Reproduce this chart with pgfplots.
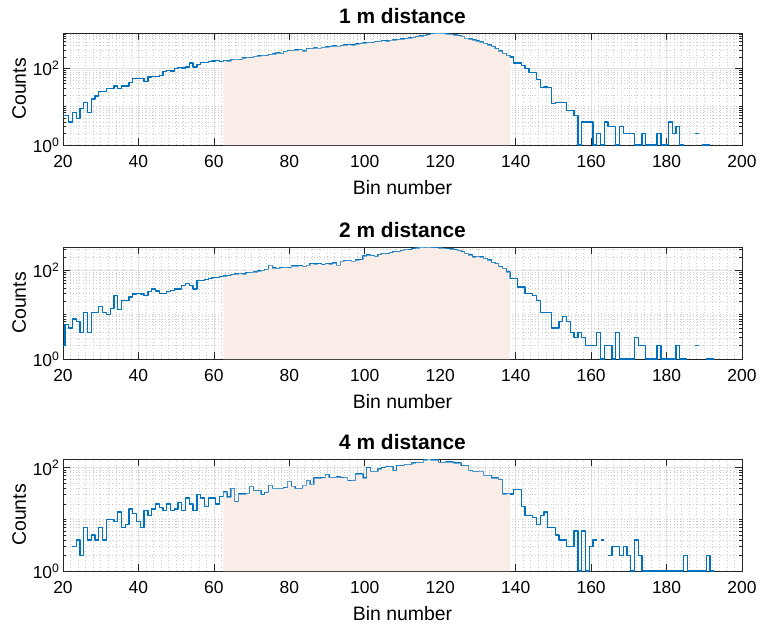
\documentclass[border=0pt]{standalone}
\usepackage{fontspec}
\setmainfont{Liberation Sans}
\usepackage{pgfplots}
\usepackage{pgfplotstable}
\pgfplotsset{compat=1.18}

\definecolor{mblue}{RGB}{0,114,189}
\definecolor{shade}{RGB}{250,236,231}
\definecolor{gridc}{RGB}{225,225,225}

% bin left edge, counts
\pgfplotstableread[row sep=\\]{
x y\\
19.5 6\\20.5 6\\21.5 4\\22.5 7\\23.5 5\\24.5 9\\25.5 13\\26.5 7\\27.5 16\\28.5 19\\29.5 25\\30.5 25\\
31.5 30\\32.5 30\\33.5 35\\34.5 30\\35.5 35\\36.5 35\\37.5 43\\38.5 55\\39.5 55\\40.5 56\\41.5 46\\
42.5 60\\43.5 63\\44.5 62\\45.5 66\\46.5 85\\47.5 87\\48.5 86\\49.5 100\\50.5 105\\51.5 104\\52.5 110\\
53.5 140\\54.5 110\\55.5 130\\56.5 145\\57.5 144\\58.5 150\\59.5 158\\60.5 160\\61.5 156\\62.5 162\\
63.5 158\\64.5 170\\65.5 175\\66.5 172\\67.5 188\\68.5 196\\69.5 192\\70.5 208\\71.5 212\\72.5 220\\
73.5 218\\74.5 235\\75.5 240\\76.5 255\\77.5 250\\78.5 280\\79.5 292\\80.5 300\\81.5 305\\82.5 318\\
83.5 290\\84.5 330\\85.5 335\\86.5 345\\87.5 340\\88.5 360\\89.5 368\\90.5 375\\91.5 388\\92.5 385\\
93.5 400\\94.5 410\\95.5 418\\96.5 412\\97.5 435\\98.5 455\\99.5 462\\100.5 480\\101.5 478\\102.5 505\\
103.5 512\\104.5 530\\105.5 525\\106.5 550\\107.5 560\\108.5 575\\109.5 590\\110.5 605\\111.5 630\\
112.5 650\\113.5 680\\114.5 705\\115.5 740\\116.5 775\\117.5 820\\118.5 850\\119.5 845\\120.5 835\\
121.5 800\\122.5 790\\123.5 760\\124.5 730\\125.5 700\\126.5 620\\127.5 590\\128.5 560\\129.5 525\\
130.5 495\\131.5 455\\132.5 415\\133.5 380\\134.5 330\\135.5 290\\136.5 250\\137.5 220\\138.5 200\\
139.5 140\\140.5 140\\141.5 120\\142.5 100\\143.5 80\\144.5 80\\145.5 52\\146.5 32\\147.5 33\\148.5 32\\
149.5 12\\150.5 13\\151.5 13\\152.5 13\\153.5 8\\154.5 8\\155.5 6\\156.5 1\\157.5 4\\158.5 4\\159.5 4\\
160.5 1\\161.5 2\\162.5 1\\163.5 4\\164.5 3\\165.5 3\\166.5 1\\167.5 3\\168.5 2\\169.5 2\\170.5 2\\
171.5 1\\172.5 1\\173.5 2\\174.5 1\\175.5 1\\176.5 1\\177.5 2\\178.5 1\\179.5 1\\180.5 4\\181.5 2\\
182.5 3\\183.5 1\\184.5 1\\184.5 nan\\187.5 2\\188.5 2\\188.5 nan\\189.5 1\\190.5 1\\191.5 1\\
}\dataA

\pgfplotstableread[row sep=\\]{
x y\\
19.5 2\\20.5 6\\21.5 5\\22.5 8\\23.5 7\\24.5 4\\25.5 11\\26.5 4\\27.5 11\\28.5 11\\29.5 15\\30.5 11\\
31.5 10\\32.5 14\\33.5 27\\34.5 13\\35.5 21\\36.5 21\\37.5 25\\38.5 29\\39.5 30\\40.5 29\\41.5 27\\
42.5 33\\43.5 38\\44.5 34\\45.5 30\\46.5 30\\47.5 33\\48.5 35\\49.5 38\\50.5 38\\51.5 45\\52.5 51\\
53.5 45\\54.5 38\\55.5 59\\56.5 59\\57.5 62\\58.5 65\\59.5 68\\60.5 68\\61.5 72\\62.5 74\\63.5 76\\
64.5 80\\65.5 83\\66.5 85\\67.5 82\\68.5 88\\69.5 90\\70.5 92\\71.5 96\\72.5 100\\73.5 105\\74.5 130\\
75.5 112\\76.5 110\\77.5 115\\78.5 116\\79.5 114\\80.5 125\\81.5 124\\82.5 126\\83.5 122\\84.5 130\\
85.5 140\\86.5 138\\87.5 140\\88.5 135\\89.5 142\\90.5 138\\91.5 145\\92.5 130\\93.5 160\\94.5 165\\
95.5 168\\96.5 160\\97.5 170\\98.5 172\\99.5 210\\100.5 220\\101.5 215\\102.5 205\\103.5 225\\
104.5 240\\105.5 236\\106.5 250\\107.5 265\\108.5 262\\109.5 280\\110.5 296\\111.5 290\\112.5 305\\
113.5 320\\114.5 335\\115.5 330\\116.5 333\\117.5 325\\118.5 322\\119.5 318\\120.5 315\\121.5 305\\
122.5 300\\123.5 290\\124.5 280\\125.5 262\\126.5 240\\127.5 220\\128.5 200\\129.5 205\\130.5 200\\
131.5 185\\132.5 170\\133.5 150\\134.5 141\\135.5 120\\136.5 110\\137.5 91\\138.5 65\\139.5 65\\
140.5 42\\141.5 42\\142.5 30\\143.5 30\\144.5 27\\145.5 21\\146.5 11\\147.5 11\\148.5 11\\149.5 5\\
150.5 5\\151.5 7\\152.5 9\\153.5 7\\154.5 4\\155.5 3\\156.5 4\\157.5 3\\158.5 2\\159.5 2\\160.5 2\\
161.5 4\\162.5 1\\163.5 2\\164.5 2\\165.5 1\\166.5 4\\167.5 1\\168.5 1\\169.5 1\\170.5 1\\171.5 3\\
172.5 2\\173.5 2\\174.5 1\\175.5 1\\176.5 1\\177.5 2\\178.5 1\\179.5 1\\180.5 1\\181.5 1\\182.5 2\\
183.5 1\\184.5 1\\185.5 1\\185.5 nan\\187.5 2\\188.5 2\\188.5 nan\\190.5 1\\191.5 1\\192.5 1\\
}\dataB

\pgfplotstableread[row sep=\\]{
x y\\
22.5 3\\23.5 4\\24.5 2\\25.5 7\\26.5 4\\27.5 5\\28.5 4\\29.5 7\\30.5 4\\31.5 10\\32.5 10\\33.5 9\\
34.5 14\\35.5 7\\36.5 8\\37.5 16\\38.5 13\\39.5 9\\40.5 7\\41.5 15\\42.5 12\\43.5 16\\44.5 20\\45.5 17\\
46.5 15\\47.5 20\\48.5 15\\49.5 16\\50.5 21\\51.5 15\\52.5 26\\53.5 20\\54.5 15\\55.5 30\\56.5 26\\
57.5 18\\58.5 26\\59.5 26\\60.5 20\\61.5 28\\62.5 34\\63.5 27\\64.5 40\\65.5 22\\66.5 31\\67.5 31\\
68.5 32\\69.5 44\\70.5 36\\71.5 36\\72.5 30\\73.5 33\\74.5 46\\75.5 40\\76.5 40\\77.5 40\\78.5 41\\
79.5 55\\80.5 44\\81.5 40\\82.5 40\\83.5 46\\84.5 57\\85.5 48\\86.5 63\\87.5 63\\88.5 64\\89.5 74\\
90.5 65\\91.5 65\\92.5 66\\93.5 64\\94.5 65\\95.5 56\\96.5 57\\97.5 76\\98.5 76\\99.5 63\\100.5 100\\
101.5 85\\102.5 85\\103.5 95\\104.5 100\\105.5 105\\106.5 105\\107.5 88\\108.5 110\\109.5 110\\
110.5 117\\111.5 117\\112.5 124\\113.5 128\\114.5 128\\115.5 142\\116.5 148\\117.5 142\\118.5 142\\
119.5 128\\120.5 128\\121.5 130\\122.5 130\\123.5 124\\124.5 124\\125.5 110\\126.5 110\\127.5 88\\
128.5 85\\129.5 85\\130.5 86\\131.5 71\\132.5 71\\133.5 63\\134.5 63\\135.5 59\\136.5 31\\137.5 32\\
138.5 31\\139.5 38\\140.5 38\\141.5 18\\142.5 12\\143.5 12\\144.5 11\\145.5 8\\146.5 12\\147.5 14\\
148.5 7\\149.5 7\\150.5 5\\151.5 4\\152.5 4\\153.5 3\\154.5 3\\155.5 6\\156.5 1\\157.5 6\\158.5 1\\
159.5 3\\160.5 4\\161.5 4\\161.5 nan\\162.5 4\\163.5 4\\163.5 nan\\164.5 2\\165.5 3\\166.5 3\\167.5 2\\
168.5 3\\169.5 2\\170.5 1\\171.5 4\\172.5 2\\173.5 1\\174.5 1\\175.5 1\\176.5 1\\177.5 1\\178.5 1\\
179.5 1\\180.5 1\\181.5 1\\182.5 1\\183.5 1\\184.5 2\\185.5 1\\186.5 1\\187.5 1\\188.5 1\\189.5 1\\
190.5 2\\191.5 1\\192.5 1\\
}\dataC

\pgfplotsset{
  histaxis/.style={
    width=679bp, height=112bp, scale only axis,
    xmin=20, xmax=200, ymin=1,
    xtick={20,40,...,200},
    minor x tick num=9,
    ytick={1,100},
    yticklabels={10\textsuperscript{0},10\textsuperscript{2}},
    minor ytick={2,3,4,5,6,7,8,9,10,20,30,40,50,60,70,80,90,200,300,400,500,600,700,800,900},
    tick align=inside,
    major tick length=7bp, minor tick length=3.5bp,
    xmajorgrids, ymajorgrids, xminorgrids, yminorgrids,
    major grid style={gridc, line width=0.6bp},
    minor grid style={gray!40, line width=0.6bp, dash pattern=on 0.7bp off 2.6bp},
    minor x tick style={draw=none},
    axis line style={black!85, line width=0.7bp},
    every tick/.append style={black!85, line width=0.7bp},
    ticklabel style={font=\fontsize{17.5}{20}\selectfont},
    xticklabel style={yshift=-7bp},
    label style={font=\fontsize{19.5}{22}\selectfont},
    xlabel style={yshift=-6bp},
    title style={font=\fontsize{21}{24}\selectfont\bfseries},
    xlabel={Bin number}, ylabel={Counts},
    /pgf/number format/assume math mode=true,
    unbounded coords=jump,
  },
  histline/.style={draw=mblue, line width=1.3bp, line join=round, const plot},
  histfill/.style={draw=none, fill=shade, const plot,
    restrict x to domain=62.5:138.5},
}

\begin{document}
\begin{tikzpicture}
\useasboundingbox (-63bp,33bp) rectangle (701bp,-593bp);

\begin{axis}[ymode=log, histaxis, at={(0,0)}, anchor=north west, ymax=850, title={1 m distance}]
\addplot[histfill] table {\dataA} \closedcycle;
\addplot[histline] table {\dataA};
\addplot[histfill, fill opacity=0.45] table {\dataA} \closedcycle;
\end{axis}

\begin{axis}[ymode=log, histaxis, at={(0,-214bp)}, anchor=north west, ymax=335, title={2 m distance}]
\addplot[histfill] table {\dataB} \closedcycle;
\addplot[histline] table {\dataB};
\addplot[histfill, fill opacity=0.45] table {\dataB} \closedcycle;
\end{axis}

\begin{axis}[ymode=log, histaxis, at={(0,-426bp)}, anchor=north west, ymax=148, title={4 m distance}]
\addplot[histfill] table {\dataC} \closedcycle;
\addplot[histline] table {\dataC};
\addplot[histfill, fill opacity=0.45] table {\dataC} \closedcycle;
\end{axis}
\end{tikzpicture}
\end{document}
